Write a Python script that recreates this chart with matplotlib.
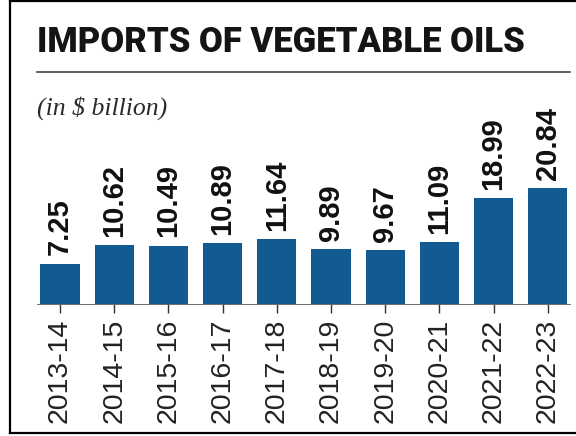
import matplotlib.pyplot as plt
from matplotlib.lines import Line2D

years = ['2013-14', '2014-15', '2015-16', '2016-17', '2017-18',
         '2018-19', '2019-20', '2020-21', '2021-22', '2022-23']
imports = [7.25, 10.62, 10.49, 10.89, 11.64, 9.89, 9.67, 11.09, 18.99, 20.84]

title = 'IMPORTS OF VEGETABLE OILS'
subtitle = '(in $ billion)'

W, H = 576, 436
BLUE = '#115b92'
SANS = ['Liberation Sans', 'DejaVu Sans']

fig = plt.figure(figsize=(W / 100, H / 100), dpi=100)
fig.patch.set_facecolor('white')

# axes box in pixels: left 37, right 570, top 80, baseline 304
ax = fig.add_axes([37 / W, 1 - 304 / H, (570 - 37) / W, (304 - 80) / H])
x = list(range(len(years)))
bars = ax.bar(x, imports, width=0.72, color=BLUE, zorder=2)
ax.set_xlim((37 - 60) / 54.2, (570 - 60) / 54.2)
ax.set_ylim(0, 224 / 5.57)

ax.bar_label(bars, labels=[f'{v:.2f}' for v in imports], rotation=90,
             padding=6, fontsize=21, fontweight='bold', family=SANS,
             color='#111111')

ax.set_xticks(x, years, rotation=90, fontsize=20.5, family=SANS,
              color='#222222')
ax.tick_params(axis='x', length=6.5, width=1, pad=4, color='#333333')
ax.set_yticks([])
for s in ['left', 'right', 'top']:
    ax.spines[s].set_visible(False)
ax.spines['bottom'].set_color('#555555')
ax.spines['bottom'].set_linewidth(0.6)
ax.set_facecolor('none')

# title, sized to the measured width of the reference
t = fig.text(37 / W, 1 - 52 / H, title, ha='left', va='baseline',
             fontsize=30, fontweight='heavy', color='#141414',
             family=['Roboto', 'DejaVu Sans'])
fig.canvas.draw()
w = t.get_window_extent().width
t.set_fontsize(30 * 488 / w)

fig.text(37 / W, 1 - 108 / H, subtitle, ha='left', va='center',
         fontsize=18.5, style='italic', color='#2a2a2a',
         family=['Liberation Serif', 'DejaVu Serif'])

# rule under the title
fig.add_artist(Line2D([37 / W, 570 / W], [1 - 72.5 / H] * 2,
                      color='#444444', lw=1.2))

# frame around the graphic (left, top, bottom)
kw = dict(color='black', lw=1.6)
fig.add_artist(Line2D([10 / W, 10 / W], [1 - 1.5 / H, 1 - 433 / H], **kw))
fig.add_artist(Line2D([10 / W, 1], [1 - 1.5 / H] * 2, **kw))
fig.add_artist(Line2D([10 / W, 1], [1 - 433 / H] * 2, **kw))

fig.savefig('out.png', dpi=100)
